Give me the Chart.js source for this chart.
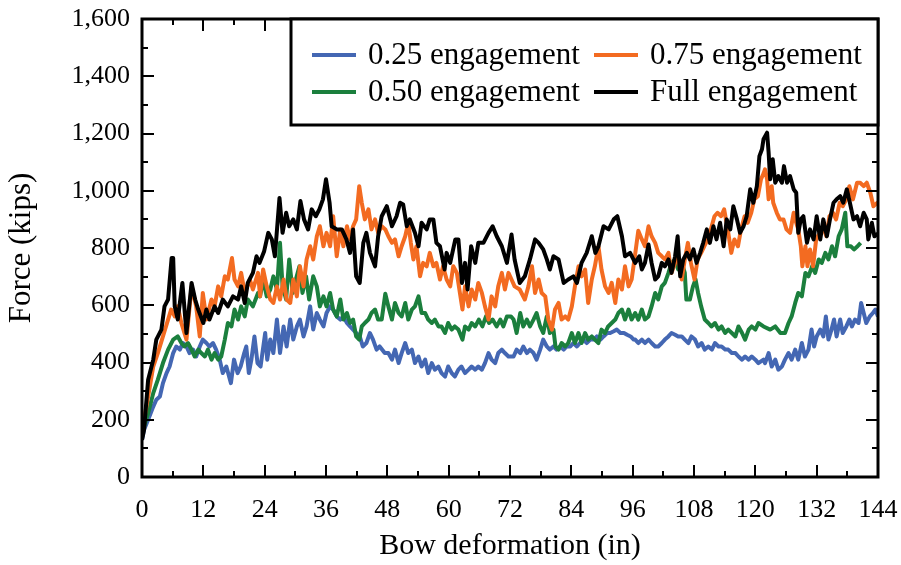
<!DOCTYPE html>
<html>
<head>
<meta charset="utf-8">
<title>Bow deformation vs force</title>
<script src="https://cdn.jsdelivr.net/npm/chart.js@4.4.1/dist/chart.umd.min.js"></script>
<style>
    html, body { margin: 0; padding: 0; background: #fff; }
    #wrap { width: 901px; height: 565px; }
</style>
</head>
<body>
<div id="wrap"><canvas id="forceChart" width="901" height="565"></canvas></div>
<script>
// Bow deformation (in) / force (kips) pairs for each engagement level
const quarterEngagement = [
    [0,130],[0.4,165],[1.2,200],[2.2,246],[2.8,270],[3.5,281],[4.1,328],[4.8,363],[5.4,386],[6.1,433],
    [6.7,456],[7.4,445],[8,468],[8.7,456],[9.3,433],[10,445],[10.6,421],[11.3,456],[11.9,480],[12.6,468],
    [13.2,456],[13.9,468],[14.5,445],[15.2,410],[15.8,363],[16.5,386],[17.4,328],[18,410],[18.7,363],[19.3,386],
    [20,433],[20.4,456],[20.9,363],[21.4,410],[22,491],[22.6,398],[23.2,386],[24.1,503],[24.5,410],[25.1,480],
    [25.7,433],[26.4,550],[27,433],[27.7,526],[28.3,456],[29,550],[29.6,480],[30.3,526],[30.9,550],[31.6,491],
    [32.2,526],[32.9,596],[33.5,515],[34.2,573],[34.8,550],[35.5,526],[36.1,573],[36.8,596],[37.4,585],[38.1,561],
    [38.8,550],[39.4,561],[40.1,538],[40.7,526],[41.3,515],[41.9,503],[42.6,491],[43.2,456],[43.9,468],[44.6,503],
    [45.2,480],[45.9,445],[46.5,456],[47.5,433],[48.2,433],[48.9,410],[49.5,445],[50.2,398],[50.8,433],[51.5,468],
    [52.1,433],[52.8,445],[53.4,398],[54.1,421],[54.7,386],[55.4,410],[56,363],[56.7,398],[57.3,375],[58,386],
    [58.6,363],[59.3,351],[59.9,386],[60.6,363],[61.2,351],[61.9,375],[62.5,386],[63.2,363],[63.9,375],[64.5,386],
    [65.2,375],[65.8,386],[66.5,375],[67.1,398],[67.8,433],[68.4,410],[69.1,398],[69.7,433],[70.4,445],[71,433],
    [71.7,421],[72.7,421],[73.3,445],[74,433],[74.6,456],[75.3,433],[75.9,445],[76.6,433],[77.2,410],[77.9,445],
    [78.5,480],[79.2,456],[79.8,445],[80.5,456],[81.1,445],[81.8,456],[82.5,445],[83.1,456],[83.8,456],[84.4,468],
    [85.1,456],[85.7,468],[86.4,480],[87,468],[87.7,480],[88.4,480],[89,491],[89.7,480],[90.3,491],[91,503],
    [91.6,503],[92.3,509],[92.9,515],[93.6,503],[94.3,503],[94.9,497],[95.6,491],[96.2,480],[96.5,480],[97.1,468],
    [97.8,480],[98.4,468],[99.1,480],[99.7,468],[100.4,456],[101,456],[101.7,468],[102.3,480],[103,491],[103.6,503],
    [104.3,497],[104.9,491],[105.6,491],[106.2,480],[106.9,468],[107.5,491],[108.2,480],[108.8,456],[109.5,468],[110.1,445],
    [110.8,456],[111.5,445],[112.1,468],[112.8,456],[113.4,456],[114.1,445],[114.7,445],[115.4,433],[116.1,433],[116.7,421],
    [117.4,410],[118,421],[118.7,410],[119.3,421],[120,410],[120.6,398],[121.6,410],[121.9,398],[122.6,433],[123.2,386],
    [123.9,410],[124.5,375],[125.2,386],[125.8,410],[126.5,433],[127.1,410],[127.8,445],[128.4,410],[129.1,468],[129.7,421],
    [130.4,445],[131,515],[131.5,456],[132,491],[132.7,515],[133.3,491],[133.8,561],[134.3,480],[134.9,515],[135.4,550],
    [135.9,491],[136.6,550],[137.1,503],[137.8,526],[138.4,550],[138.9,526],[139.5,550],[140.2,538],[140.7,608],[141.2,573],
    [141.7,538],[142.4,561],[143,573],[143.5,585],[144,560]
];

const halfEngagement = [
    [0,140],[0.4,176],[1.2,223],[2.2,293],[3.1,340],[4.1,398],[5.1,445],[6.1,480],[7,491],[7.7,468],
    [8.3,456],[9,468],[9.7,445],[10.3,421],[11,445],[11.6,433],[12.3,421],[12.9,445],[13.6,410],[14.2,433],
    [14.9,410],[15.5,421],[16.2,480],[16.8,538],[17.5,526],[18.1,585],[18.8,550],[19.4,596],[20.1,561],[20.7,620],
    [21.7,596],[22.7,643],[23.1,631],[23.7,690],[24.4,631],[25.1,655],[25.7,701],[26.4,655],[27,818],[27.5,666],
    [28.2,620],[28.8,760],[29.5,643],[30.1,690],[30.8,736],[31.4,643],[32.1,701],[32.7,620],[33.5,701],[34.2,666],
    [34.8,596],[35.5,631],[36.1,596],[36.8,643],[37.4,585],[38.1,561],[38.8,620],[39.4,550],[40.1,573],[40.7,538],
    [41.3,550],[41.9,491],[42.5,480],[43,526],[43.6,538],[44.3,550],[44.9,573],[45.6,585],[46.2,550],[46.9,550],
    [47.6,640],[48.2,596],[48.9,550],[49.5,608],[50.2,573],[50.8,561],[51.5,608],[52.1,550],[52.8,585],[53.4,596],
    [54.1,631],[54.7,573],[55.4,573],[56,550],[56.7,538],[57.3,550],[58,526],[58.6,526],[59.3,503],[59.9,538],
    [60.6,515],[61.2,526],[61.9,515],[62.7,480],[63.2,526],[63.9,515],[64.5,538],[65.2,526],[65.9,550],[66.6,526],
    [67.3,561],[67.9,538],[68.6,550],[69.4,526],[70.1,550],[70.7,526],[71.4,561],[72.2,561],[72.7,550],[73.3,503],
    [74,573],[74.6,526],[75.3,550],[75.9,526],[76.6,550],[77.2,573],[77.9,526],[78.5,503],[79.2,561],[79.8,503],
    [80.5,515],[80.9,456],[81.5,445],[82.1,468],[82.8,456],[83.4,468],[84.1,503],[84.7,468],[85.4,503],[86,468],
    [86.7,503],[87.3,480],[88,491],[88.6,480],[89.3,468],[89.9,515],[90.6,503],[91.2,526],[91.9,538],[92.6,550],
    [93.2,573],[93.9,585],[94.5,550],[95.2,585],[95.8,550],[96.5,573],[97.1,550],[97.8,585],[98.4,550],[99.1,561],
    [99.7,596],[100.4,643],[101,620],[101.7,666],[102.3,678],[103,713],[103.6,748],[104.3,760],[104.9,725],[105.6,748],
    [106.2,713],[106.5,620],[107.2,620],[107.8,666],[108.3,690],[108.8,643],[109.4,596],[110.1,550],[110.8,538],[111.4,526],
    [112.1,538],[112.8,515],[113.4,526],[114.1,503],[114.7,515],[115.4,503],[116.1,491],[116.7,526],[117.4,503],[118,480],
    [118.7,515],[119.3,526],[120,515],[120.6,538],[121.6,526],[122.9,515],[123.9,526],[124.9,503],[125.8,503],[126.5,538],
    [127.1,561],[127.8,608],[128.4,643],[129.1,631],[129.8,713],[130.4,701],[131.1,736],[131.7,713],[132.4,760],[133,748],
    [133.7,783],[134.3,760],[135,806],[135.6,771],[136.3,841],[136.9,865],[137.6,923],[138,806],[138.7,806],[139.3,795],
    [140,806],[140.6,818]
];

const threeQuarterEngagement = [
    [0,150],[0.4,200],[1.2,281],[2.2,386],[3.1,433],[4.1,491],[5.1,550],[5.7,585],[6.4,561],[7,596],
    [7.7,538],[8.7,480],[9.7,666],[10.6,596],[11.3,491],[11.9,643],[12.6,550],[13.6,620],[14.2,596],[14.9,666],
    [15.5,631],[16.2,701],[16.8,690],[17.6,765],[18.1,690],[18.8,666],[19.4,713],[20.1,643],[21.1,690],[21.7,655],
    [22.7,713],[23.1,631],[23.7,725],[24.4,666],[25.1,620],[25.7,608],[26.4,666],[27,620],[27.7,690],[28.3,620],
    [29,608],[29.6,690],[30.3,631],[30.9,736],[31.6,666],[32.2,760],[32.9,806],[33.5,760],[34.2,841],[34.8,876],
    [35.5,806],[36.1,853],[36.8,806],[37.4,911],[38.1,771],[38.8,865],[39.4,806],[40.1,876],[40.7,830],[41.3,876],
    [41.9,900],[42.5,1016],[43,958],[43.6,900],[44.3,935],[44.9,865],[45.6,900],[46.2,853],[46.9,876],[47.6,865],
    [48.2,841],[48.9,818],[49.5,830],[50.2,771],[50.8,806],[51.5,841],[52.1,888],[52.6,818],[53.1,760],[53.7,806],
    [54.4,701],[55,748],[55.7,736],[56.3,783],[57,736],[57.6,748],[58.3,690],[58.9,736],[59.6,690],[60.3,666],
    [60.9,736],[61.6,713],[62.2,643],[62.7,585],[63.2,666],[63.9,596],[64.5,655],[65.2,620],[65.8,678],[66.5,643],
    [67.1,596],[67.8,550],[68.4,631],[69.1,596],[69.7,666],[70.4,713],[71,655],[71.7,713],[72.3,690],[72.9,666],
    [73.9,655],[74.9,620],[75.6,666],[76.3,736],[76.9,643],[77.6,690],[78.2,643],[78.9,631],[79.5,550],[80.2,515],
    [80.8,585],[81.5,608],[82.1,550],[82.8,561],[83.4,550],[84.1,596],[84.7,666],[85.4,736],[86,701],[86.7,725],
    [87.3,608],[88,690],[88.6,736],[89.3,806],[89.9,725],[90.6,666],[91.3,643],[91.9,678],[92.6,608],[93.2,690],
    [93.9,655],[94.5,736],[95.2,666],[95.8,690],[96.5,780],[97.1,860],[97.8,830],[98.4,806],[99.1,876],[99.7,841],
    [100.4,818],[101,783],[101.7,771],[102.3,760],[103,783],[103.6,713],[104.3,748],[104.9,771],[105.6,690],[106.2,760],
    [106.8,818],[107.4,748],[108.1,690],[108.7,760],[109.4,783],[110,806],[110.7,830],[111.3,865],[112,911],[112.6,923],
    [113.3,911],[113.9,935],[114.6,865],[115.3,783],[115.9,830],[116.6,806],[117.2,865],[117.9,911],[118.5,888],[119.2,923],
    [119.8,970],[120.5,981],[121.1,1040],[121.6,1060],[121.9,1075],[122.3,1040],[122.6,970],[123.2,1016],[123.5,958],[124.2,923],
    [124.8,900],[125.5,900],[126.1,865],[126.8,853],[127.5,923],[127.8,900],[128.4,865],[128.9,806],[129.2,736],[129.8,806],
    [130.2,736],[130.7,795],[131.3,736],[131.9,830],[132.6,853],[133.2,876],[133.9,841],[134.5,911],[135.2,923],[135.8,900],
    [136.5,958],[137.1,946],[137.8,970],[138.4,1016],[139.1,970],[139.9,1028],[140.5,1028],[141.2,1016],[141.8,1028],[142.5,993],
    [143.1,946],[144,960]
];

const fullEngagement = [
    [0,130],[0.4,165],[1.2,340],[2.2,410],[2.8,480],[3.8,515],[4.4,596],[5.1,620],[5.8,765],[6.1,765],
    [6.4,596],[7,550],[7.9,678],[8.7,503],[9.7,678],[10.4,620],[11,585],[12,538],[12.6,585],[13.2,550],
    [14.2,596],[14.9,573],[15.8,620],[16.8,596],[17.8,631],[18.8,620],[19.4,666],[20.1,608],[20.7,678],[21.7,713],
    [22.4,771],[23,748],[23.9,789],[24.7,853],[25.4,830],[26,771],[26.9,975],[27.5,853],[28.2,923],[28.8,876],
    [29.6,900],[30.3,865],[31,964],[31.7,900],[32.5,865],[33.2,935],[34,911],[34.7,935],[35.4,970],[36,1040],
    [36.7,958],[37.1,876],[38.1,865],[39.1,865],[40,830],[40.7,783],[41.3,865],[41.9,701],[42.6,678],[43.3,818],
    [43.9,853],[44.6,783],[45.6,736],[46.2,841],[46.9,911],[47.9,946],[48.9,876],[49.8,911],[50.5,958],[51.1,952],
    [51.8,876],[52.4,900],[53.4,853],[54.1,806],[54.7,888],[55.7,865],[56.3,900],[57,900],[57.6,818],[58.3,806],
    [59.2,725],[59.6,783],[60.3,748],[61.3,830],[61.9,830],[62.6,678],[63.2,748],[63.7,655],[64.4,806],[65.2,748],
    [65.8,818],[66.8,818],[67.8,853],[68.6,876],[69.4,841],[70.4,806],[71.4,748],[72.3,847],[72.9,760],[73.9,678],
    [74.9,701],[75.9,760],[76.9,830],[77.6,818],[78.5,795],[79.2,760],[79.8,725],[80.5,771],[81.5,760],[82.5,678],
    [83.4,690],[84.4,701],[85.1,678],[86,748],[87,783],[88,841],[88.7,783],[89.3,806],[90.3,876],[91.3,865],
    [92.3,900],[93,911],[93.9,841],[94.5,771],[95.5,783],[96.5,748],[97.3,771],[97.8,725],[98.4,748],[99.1,812],
    [99.7,748],[100.4,690],[101,701],[101.7,748],[102.3,736],[103,760],[103.6,713],[104.3,771],[104.8,841],[105.3,701],
    [105.9,760],[106.6,783],[107.2,760],[107.9,795],[108.5,748],[109.2,783],[109.8,818],[110.5,865],[111.1,818],[111.8,876],
    [112.4,830],[113.1,888],[113.8,806],[114.4,900],[115.1,865],[115.7,946],[116.4,900],[117,853],[117.7,876],[118.3,911],
    [119,1005],[119.6,958],[120.3,1016],[120.8,1121],[121.3,1145],[121.6,1180],[122.3,1203],[122.6,1133],[122.9,1040],[123.4,1110],
    [123.9,1028],[124.5,1051],[125.2,1028],[125.6,1086],[126.2,1028],[126.8,1051],[127.5,1005],[128,993],[128.4,853],[128.9,900],
    [129.4,911],[130.1,818],[130.7,865],[131.4,830],[132,911],[132.7,830],[133.3,900],[134,841],[134.6,900],[135.3,958],
    [135.9,970],[136.6,981],[137.2,958],[137.9,1005],[138.5,958],[139.2,900],[139.9,911],[140.5,876],[141.2,923],[141.8,900],
    [142.1,830],[142.8,888],[143.3,841],[144,850]
];

const seriesLabels = ['0.25 engagement', '0.50 engagement', '0.75 engagement', 'Full engagement'];
const seriesColors = ['#4467b3', '#1b7f3d', '#f36b21', '#000000'];

// axis ranges and tick spacing
const xMax = 144, xStep = 12, xMinor = 6;
const yMax = 1600, yStep = 200, yMinor = 100;

const FONT = "'Liberation Serif', 'Times New Roman', serif";

function toPoints(pairs) {
    return pairs.map(p => ({ x: p[0], y: p[1] }));
}

// keep the plot box exactly where the layout padding puts it
function noEdgePadding(scale) {
    scale.paddingLeft = 0;
    scale.paddingRight = 0;
    scale.paddingTop = 0;
    scale.paddingBottom = 0;
}

// Thick box around the plot with inward ticks on all four sides
const frameTicks = {
    id: 'frameTicks',
    afterDatasetsDraw(chart) {
        const { ctx, chartArea: a, scales: { x, y } } = chart;
        ctx.save();
        ctx.strokeStyle = '#000';
        ctx.lineWidth = 2;
        ctx.beginPath();
        for (let v = 0; v <= xMax; v += xMinor) {
            const px = Math.round(x.getPixelForValue(v));
            const len = v % xStep === 0 ? 12 : 6;
            ctx.moveTo(px, a.bottom); ctx.lineTo(px, a.bottom - len);
            ctx.moveTo(px, a.top); ctx.lineTo(px, a.top + len);
        }
        for (let v = 0; v <= yMax; v += yMinor) {
            const py = Math.round(y.getPixelForValue(v));
            const len = v % yStep === 0 ? 12 : 6;
            ctx.moveTo(a.left, py); ctx.lineTo(a.left + len, py);
            ctx.moveTo(a.right, py); ctx.lineTo(a.right - len, py);
        }
        ctx.stroke();
        ctx.lineWidth = 3;
        ctx.strokeRect(a.left, a.top, a.right - a.left, a.bottom - a.top);
        ctx.restore();
    }
};

// Boxed two-column legend in the upper right of the plot
const boxLegend = {
    id: 'boxLegend',
    afterDraw(chart) {
        const { ctx, chartArea: a } = chart;
        const w = 587, h = 106;
        const left = a.right - w, top = a.top;
        ctx.save();
        ctx.fillStyle = '#fff';
        ctx.fillRect(left, top, w, h);
        ctx.lineWidth = 3;
        ctx.strokeStyle = '#000';
        ctx.strokeRect(left, top, w, h);

        // column layout: 0.25 / 0.50 on the left, 0.75 / Full on the right
        const slots = [[0, 0], [0, 1], [1, 0], [1, 1]];
        ctx.font = '31px ' + FONT;
        ctx.textBaseline = 'middle';
        chart.data.datasets.forEach((ds, i) => {
            const [col, row] = slots[i];
            const cx = left + (col === 0 ? 21 : 303);
            const cy = top + 36 + row * 37;
            ctx.strokeStyle = ds.borderColor;
            ctx.lineWidth = 4;
            ctx.beginPath();
            ctx.moveTo(cx, cy); ctx.lineTo(cx + 44, cy);
            ctx.stroke();
            ctx.fillStyle = '#000';
            ctx.fillText(ds.label, cx + 56, cy + 1);
        });
        ctx.restore();
    }
};

const allSeries = [quarterEngagement, halfEngagement, threeQuarterEngagement, fullEngagement];

new Chart(document.getElementById('forceChart'), {
    type: 'line',
    data: {
        datasets: allSeries.map((s, i) => ({
            label: seriesLabels[i],
            data: toPoints(s),
            borderColor: seriesColors[i],
            backgroundColor: seriesColors[i],
            borderWidth: 4,
            borderJoinStyle: 'round',
            pointRadius: 0,
            tension: 0,
            fill: false,
            order: 3 - i
        }))
    },
    options: {
        responsive: false,
        animation: false,
        devicePixelRatio: 1,
        layout: { padding: { top: 19, right: 23, left: 0, bottom: 0 } },
        plugins: {
            legend: { display: false },
            tooltip: { enabled: false }
        },
        scales: {
            x: {
                type: 'linear',
                min: 0,
                max: xMax,
                afterFit(scale) { scale.height = 88; noEdgePadding(scale); },
                grid: { display: false, drawTicks: false },
                border: { display: false },
                ticks: {
                    stepSize: xStep,
                    autoSkip: false,
                    maxRotation: 0,
                    padding: 18,
                    color: '#000',
                    font: { family: FONT, size: 26 }
                },
                title: {
                    display: true,
                    text: 'Bow deformation (in)',
                    color: '#000',
                    font: { family: FONT, size: 30 },
                    padding: { top: 0, bottom: 1 }
                }
            },
            y: {
                min: 0,
                max: yMax,
                afterFit(scale) { scale.width = 142; noEdgePadding(scale); },
                grid: { display: false, drawTicks: false },
                border: { display: false },
                ticks: {
                    stepSize: yStep,
                    padding: 12,
                    color: '#000',
                    font: { family: FONT, size: 26 },
                    callback: v => v.toLocaleString('en-US')
                },
                title: {
                    display: true,
                    text: 'Force (kips)',
                    color: '#000',
                    font: { family: FONT, size: 31 },
                    padding: { top: 3, bottom: 0 }
                }
            }
        }
    },
    plugins: [frameTicks, boxLegend]
});
</script>
</body>
</html>
